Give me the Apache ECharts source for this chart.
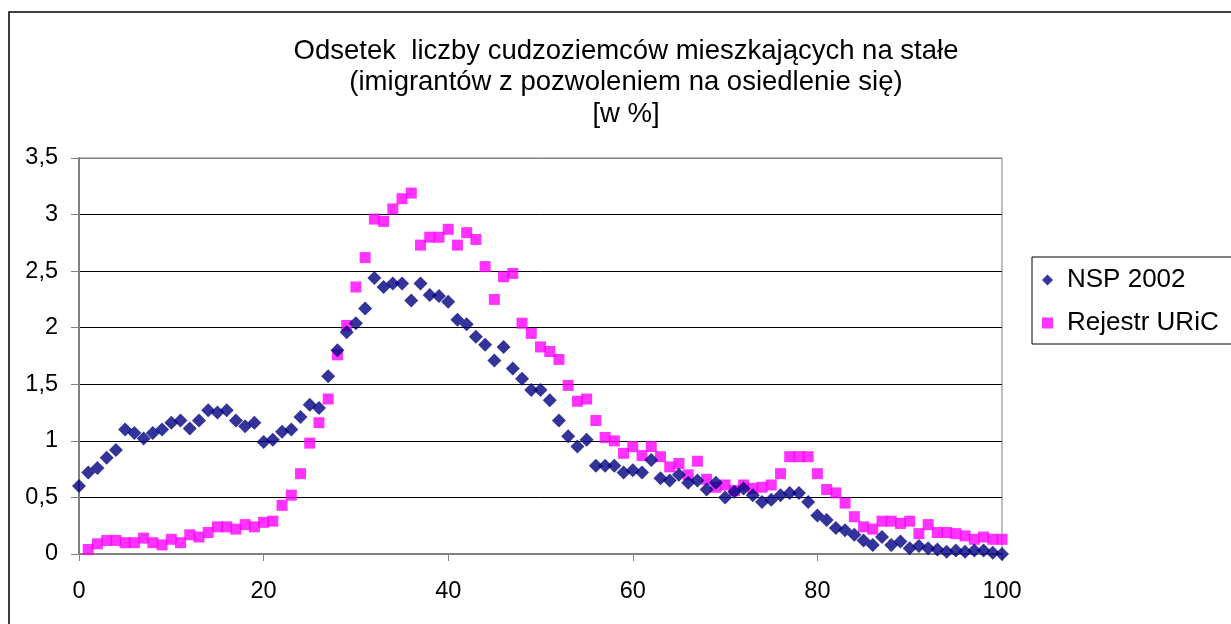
<!DOCTYPE html>
<html>
<head>
<meta charset="utf-8">
<script src="https://cdn.jsdelivr.net/npm/echarts@6.0.0/dist/echarts.min.js"></script>
<style>
  html, body { margin: 0; padding: 0; background: #fff; }
  #chart { width: 1231px; height: 624px; }
</style>
</head>
<body>
<div id="chart"></div>
<script>
const titleLines = [
  "Odsetek  liczby cudzoziemców mieszkających na stałe",
  "(imigrantów z pozwoleniem na osiedlenie się)",
  "[w %]",
];
const seriesNames = ["NSP 2002", "Rejestr URiC"];

// values for x = 0..100 (wiek)
const nspValues = [
  0.60, 0.72, 0.76, 0.85, 0.92, 1.10, 1.07, 1.02, 1.07, 1.10,
  1.16, 1.18, 1.11, 1.18, 1.27, 1.25, 1.27, 1.18, 1.13, 1.16,
  0.99, 1.01, 1.08, 1.10, 1.21, 1.32, 1.29, 1.57, 1.80, 1.96,
  2.04, 2.17, 2.44, 2.36, 2.39, 2.39, 2.24, 2.39, 2.29, 2.28,
  2.23, 2.07, 2.03, 1.92, 1.85, 1.71, 1.83, 1.64, 1.55, 1.45,
  1.45, 1.36, 1.18, 1.04, 0.95, 1.01, 0.78, 0.78, 0.78, 0.72,
  0.74, 0.72, 0.83, 0.67, 0.65, 0.70, 0.63, 0.65, 0.57, 0.63,
  0.50, 0.55, 0.58, 0.52, 0.46, 0.48, 0.52, 0.54, 0.54, 0.46,
  0.34, 0.30, 0.23, 0.21, 0.17, 0.12, 0.08, 0.15, 0.08, 0.11,
  0.05, 0.07, 0.05, 0.04, 0.02, 0.03, 0.02, 0.03, 0.03, 0.01,
  0.00,
];
const uricValues = [
  null, 0.04, 0.09, 0.12, 0.12, 0.10, 0.10, 0.14, 0.10, 0.08,
  0.13, 0.10, 0.17, 0.15, 0.19, 0.24, 0.24, 0.22, 0.26, 0.24,
  0.28, 0.29, 0.43, 0.52, 0.71, 0.98, 1.16, 1.37, 1.76, 2.02,
  2.36, 2.62, 2.96, 2.94, 3.05, 3.14, 3.19, 2.73, 2.80, 2.80,
  2.87, 2.73, 2.84, 2.78, 2.54, 2.25, 2.45, 2.48, 2.04, 1.95,
  1.83, 1.79, 1.72, 1.49, 1.35, 1.37, 1.18, 1.03, 1.00, 0.89,
  0.95, 0.87, 0.95, 0.86, 0.77, 0.80, 0.70, 0.82, 0.66, 0.59,
  0.61, 0.56, 0.61, 0.58, 0.59, 0.61, 0.71, 0.86, 0.86, 0.86,
  0.71, 0.57, 0.54, 0.45, 0.33, 0.24, 0.22, 0.29, 0.29, 0.27,
  0.29, 0.18, 0.26, 0.19, 0.19, 0.18, 0.16, 0.13, 0.15, 0.13,
  0.13,
];

const FONT = "'Liberation Sans', Arial, sans-serif";

function toPoints(values) {
  const points = [];
  values.forEach((value, index) => {
    if (value !== null) points.push([index, value]);
  });
  return points;
}

function formatComma(value) {
  return String(value).replace(".", ",");
}

const chart = echarts.init(document.getElementById("chart"));

chart.setOption({
  backgroundColor: "#fff",
  animation: false,
  graphic: [
    {
      type: "rect",
      shape: { x: 9, y: 12, width: 1260, height: 660 },
      style: { fill: null, stroke: "#000", lineWidth: 1.5 },
      z: -1,
    },
    ...titleLines.map((line, i) => ({
      type: "text",
      x: 626,
      y: 51 + i * 31.5,
      style: {
        text: line,
        font: `27.5px ${FONT}`,
        fill: "#000",
        textAlign: "center",
        textVerticalAlign: "middle",
      },
    })),
  ],
  legend: {
    orient: "vertical",
    left: 1032,
    top: 257,
    padding: [10, 60, 8, 10],
    itemGap: 17,
    itemWidth: 11,
    itemHeight: 11,
    borderColor: "#000",
    borderWidth: 1,
    borderRadius: 0,
    textStyle: { fontFamily: FONT, fontSize: 26, color: "#000", lineHeight: 26, padding: [0, 0, 0, 9] },
    data: [
      { name: seriesNames[0], icon: "diamond" },
      { name: seriesNames[1], icon: "rect" },
    ],
  },
  grid: {
    left: 79,
    right: 229,
    top: 158,
    bottom: 70,
    show: true,
    borderColor: "#808080",
    borderWidth: 1,
  },
  xAxis: {
    type: "value",
    min: 0,
    max: 100,
    interval: 20,
    axisLine: { lineStyle: { color: "#808080", width: 2 } },
    axisTick: { show: true, length: 7, lineStyle: { color: "#808080", width: 1 } },
    axisLabel: { color: "#000", fontFamily: FONT, fontSize: 23.5, margin: 26 },
    splitLine: { show: false },
  },
  yAxis: {
    type: "value",
    min: 0,
    max: 3.5,
    interval: 0.5,
    axisLine: { show: true, lineStyle: { color: "#808080", width: 2 } },
    axisTick: { show: true, length: 8, lineStyle: { color: "#808080", width: 1 } },
    axisLabel: { color: "#000", fontFamily: FONT, fontSize: 23.5, margin: 21, formatter: formatComma },
    splitLine: {
      show: true,
      lineStyle: {
        color: ["#808080", "#000", "#000", "#000", "#000", "#000", "#000", "#808080"],
        width: 1,
      },
    },
  },
  series: [
    {
      name: seriesNames[0],
      type: "scatter",
      symbol: "diamond",
      symbolSize: 14,
      itemStyle: { color: "#000080" },
      data: toPoints(nspValues),
      z: 3,
    },
    {
      name: seriesNames[1],
      type: "scatter",
      symbol: "rect",
      symbolSize: 11,
      itemStyle: { color: "#ff00ff" },
      data: toPoints(uricValues),
      z: 2,
    },
  ],
});
</script>
</body>
</html>
